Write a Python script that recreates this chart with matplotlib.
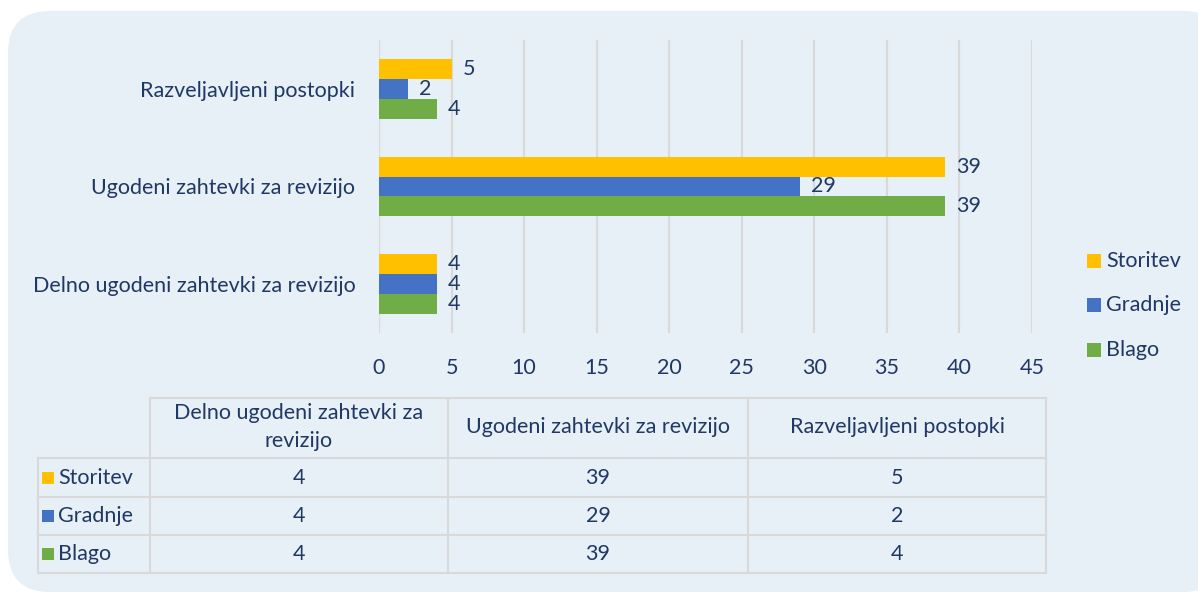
import numpy as np
import matplotlib.pyplot as plt
from matplotlib.patches import FancyBboxPatch, Rectangle

plt.rcParams['font.family'] = ['Lato', 'DejaVu Sans']

categories = ["Delno ugodeni zahtevki za revizijo",
              "Ugodeni zahtevki za revizijo",
              "Razveljavljeni postopki"]
table_headers = ["Delno ugodeni zahtevki za\nrevizijo",
                 "Ugodeni zahtevki za revizijo",
                 "Razveljavljeni postopki"]
series = ["Storitev", "Gradnje", "Blago"]
storitev = [4, 39, 5]
gradnje = [4, 29, 2]
blago = [4, 39, 4]
values = [storitev, gradnje, blago]
colors = ["#FFC000", "#4472C4", "#70AD47"]

txt = "#203864"
grid_c = "#D9D9D9"
fs = 15.5
W, H = 1198, 593

fig = plt.figure(figsize=(W / 100, H / 100), dpi=100)
fig.patch.set_facecolor("white")


def fx(px):
    return px / W


def fy(py):
    return 1 - py / H


# rounded background panel (runs off the right edge)
panel = FancyBboxPatch((fx(8), fy(592)), fx(1225 - 8), fy(11) - fy(592),
                       boxstyle="round,pad=0,rounding_size=0.035",
                       transform=fig.transFigure, facecolor="#E7EFF7",
                       edgecolor="none", mutation_aspect=W / H, zorder=-10)
fig.patches.append(panel)

ax = fig.add_axes([fx(379), fy(333), fx(1032 - 379), fy(40) - fy(333)])
ax.set_facecolor("none")

y = np.arange(len(categories))
h = 0.204
offsets = [h, 0, -h]
for vals, name, col, off in zip(values, series, colors, offsets):
    bars = ax.barh(y + off, vals, height=h, color=col, label=name)
    for b, v in zip(bars, vals):
        ax.annotate(str(v), (b.get_width(), b.get_y() + b.get_height() / 2),
                    xytext=(8, 0), textcoords="offset points",
                    va="center", ha="left", fontsize=fs, color=txt)

ax.set_xlim(0, 45)
ax.set_ylim(-0.5, 2.5)
ax.set_xticks(np.arange(0, 46, 5))
ax.set_yticks(y)
ax.set_yticklabels(categories)
ax.tick_params(axis="both", length=0, labelsize=fs, colors=txt)
ax.tick_params(axis="x", pad=18)
ax.tick_params(axis="y", pad=17)
ax.grid(axis="x", color=grid_c, linewidth=1.5)
ax.set_axisbelow(True)
for s in ax.spines.values():
    s.set_visible(False)

# legend
leg_y = [261, 305, 350]
for name, col, ly in zip(series, colors, leg_y):
    fig.patches.append(Rectangle((fx(1087), fy(ly + 7)), fx(14), fy(ly - 7) - fy(ly + 7),
                                 transform=fig.transFigure, facecolor=col, edgecolor="none"))
    fig.text(fx(1106), fy(ly), name, fontsize=fs, color=txt, va="center", ha="left")

# data table
col_x = [38, 150, 448, 748, 1046]
row_y = [398, 458, 497, 535, 573]
lw = 1.5
fig.add_artist(plt.Line2D([fx(150), fx(1046)], [fy(398), fy(398)], color=grid_c, lw=lw,
                          transform=fig.transFigure))
for ry in row_y[1:]:
    fig.add_artist(plt.Line2D([fx(38), fx(1046)], [fy(ry), fy(ry)], color=grid_c, lw=lw,
                              transform=fig.transFigure))
fig.add_artist(plt.Line2D([fx(38), fx(38)], [fy(458), fy(573)], color=grid_c, lw=lw,
                          transform=fig.transFigure))
for cx in col_x[1:]:
    fig.add_artist(plt.Line2D([fx(cx), fx(cx)], [fy(398), fy(573)], color=grid_c, lw=lw,
                              transform=fig.transFigure))

for j, hd in enumerate(table_headers):
    cx = (col_x[j + 1] + col_x[j + 2]) / 2
    fig.text(fx(cx), fy(427), hd, fontsize=fs, color=txt, ha="center", va="center",
             linespacing=1.45)

for i, (name, col, vals) in enumerate(zip(series, colors, values)):
    cy = (row_y[i + 1] + row_y[i + 2]) / 2
    fig.patches.append(Rectangle((fx(42), fy(cy + 6)), fx(12), fy(cy - 6) - fy(cy + 6),
                                 transform=fig.transFigure, facecolor=col, edgecolor="none"))
    fig.text(fx(58), fy(cy), name, fontsize=fs, color=txt, va="center", ha="left")
    for j, v in enumerate(vals):
        cx = (col_x[j + 1] + col_x[j + 2]) / 2
        fig.text(fx(cx), fy(cy), str(v), fontsize=fs, color=txt, ha="center", va="center")

fig.savefig("out.png", dpi=100)
